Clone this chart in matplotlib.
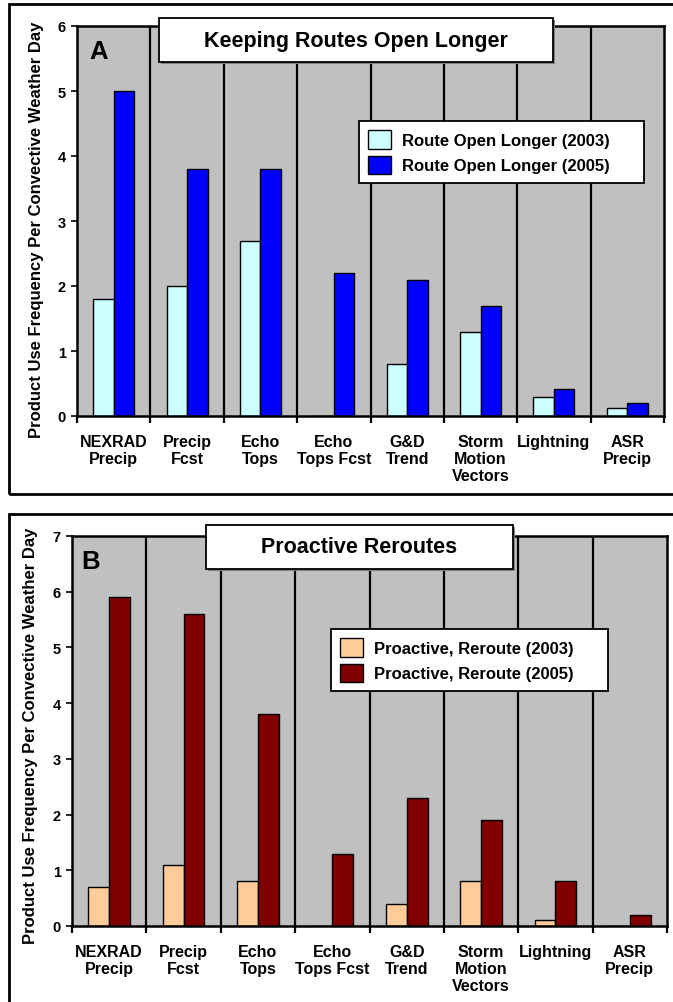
import matplotlib
matplotlib.use("Agg")
import matplotlib.pyplot as plt
from matplotlib.patches import Rectangle
import numpy as np

plt.rcParams['font.family'] = ['Liberation Sans', 'DejaVu Sans']
plt.rcParams['font.weight'] = 'bold'

# ---- data -------------------------------------------------------------
categories = ["NEXRAD\nPrecip", "Precip\nFcst", "Echo\nTops", "Echo\nTops Fcst",
              "G&D\nTrend", "Storm\nMotion\nVectors", "Lightning", "ASR\nPrecip"]

open_longer_2003 = [1.8, 2.0, 2.7, 0.0, 0.8, 1.3, 0.3, 0.12]
open_longer_2005 = [5.0, 3.8, 3.8, 2.2, 2.1, 1.7, 0.42, 0.2]

reroute_2003 = [0.7, 1.1, 0.8, 0.0, 0.4, 0.8, 0.1, 0.0]
reroute_2005 = [5.9, 5.6, 3.8, 1.3, 2.3, 1.9, 0.8, 0.2]

yticks_a = [0, 1, 2, 3, 4, 5, 6]
yticks_b = [0, 1, 2, 3, 4, 5, 6, 7]

ylabel = "Product Use Frequency Per Convective Weather Day"

# ---- figure geometry (pixel based) -------------------------------------
W, H = 673, 1003
fig = plt.figure(figsize=(W / 100, H / 100), dpi=100)
fig.patch.set_facecolor("white")


def fx(x):
    return x / W


def fy(y):
    return 1 - y / H


def add_axes_px(x0, y0, x1, y1):
    return fig.add_axes([fx(x0), fy(y1), fx(x1) - fx(x0), fy(y0) - fy(y1)])


PLOT_BG = "#C0C0C0"


def draw_panel(ax, v_old, v_new, c_old, c_new, yticks, lbl_old, lbl_new):
    n = len(categories)
    x = np.arange(n)
    width = 0.28
    ax.set_facecolor(PLOT_BG)
    ax.set_xlim(-0.5, n - 0.5)
    ax.set_ylim(yticks[0], yticks[-1])

    # category separators
    for b in np.arange(0.5, n - 0.5, 1.0):
        ax.axvline(b, color="black", lw=1.6, zorder=1)

    ax.bar(x - width / 2, v_old, width, color=c_old, edgecolor="black",
           linewidth=1.0, zorder=2, label=lbl_old)
    ax.bar(x + width / 2, v_new, width, color=c_new, edgecolor="black",
           linewidth=1.0, zorder=2, label=lbl_new)

    for s in ax.spines.values():
        s.set_color("black")
        s.set_linewidth(1.8)
        s.set_zorder(3)

    ax.set_yticks(yticks)
    ax.set_yticklabels([str(t) for t in yticks], fontsize=10.5,
                       fontweight="bold")
    ax.tick_params(axis="y", direction="out", length=4, width=1.2, pad=4)

    ax.set_xticks(x)
    ax.set_xticklabels(categories, fontsize=11.5, fontweight="bold",
                       linespacing=1.15)
    ax.tick_params(axis="x", which="major", length=0, pad=13)
    ax.set_xticks(np.arange(-0.5, n, 1.0), minor=True)
    ax.tick_params(axis="x", which="minor", direction="out", length=5,
                   width=1.6)


def title_box(x0, y0, x1, y1, text):
    shadow = Rectangle((fx(x0 + 2), fy(y1 + 2)), fx(x1) - fx(x0),
                       fy(y0) - fy(y1), transform=fig.transFigure,
                       facecolor="#808080", edgecolor="none", zorder=5)
    box = Rectangle((fx(x0), fy(y1)), fx(x1) - fx(x0), fy(y0) - fy(y1),
                    transform=fig.transFigure, facecolor="white",
                    edgecolor="black", linewidth=1.3, zorder=6)
    fig.patches.extend([shadow, box])
    fig.text(fx((x0 + x1) / 2), fy((y0 + y1) / 2), text, ha="center",
             va="center", fontsize=15.5, fontweight="bold", zorder=7)


def frame(x0, y0, x1, y1):
    r = Rectangle((fx(x0), fy(y1)), fx(x1) - fx(x0), fy(y0) - fy(y1),
                  transform=fig.transFigure, facecolor="none",
                  edgecolor="black", linewidth=2.0, zorder=0)
    fig.patches.append(r)


def legend_px(ax, x0, y0, x1, y1):
    leg = ax.legend(loc="upper left",
                    bbox_to_anchor=(fx(x0), fy(y1), fx(x1) - fx(x0),
                                    fy(y0) - fy(y1)),
                    bbox_transform=fig.transFigure, mode="expand",
                    fontsize=12, handlelength=1.35, handleheight=1.35,
                    labelspacing=0.4, borderpad=0.55, handletextpad=0.65,
                    borderaxespad=0, fancybox=False, framealpha=1,
                    edgecolor="black")
    leg.get_frame().set_linewidth(1.3)
    leg.set_zorder(8)
    return leg


# outer frames
frame(9, 5, 690, 495)
frame(9, 515, 690, 1020)

# ---- panel A -----------------------------------------------------------
axA = add_axes_px(77, 27, 664, 417)
draw_panel(axA, open_longer_2003, open_longer_2005, "#CCFFFF", "#0000FF",
           yticks_a, "Route Open Longer (2003)", "Route Open Longer (2005)")
axA.set_ylabel(ylabel, fontsize=12, fontweight="bold")
axA.yaxis.set_label_coords((44 - 77) / (664 - 77), (417 - 230) / (417 - 27))
title_box(159, 19, 553, 63, "Keeping Routes Open Longer")
fig.text(fx(89), fy(40), "A", ha="left", va="top", fontsize=18.5,
         fontweight="bold", zorder=7)
legend_px(axA, 359, 122, 644, 194)

# ---- panel B -----------------------------------------------------------
axB = add_axes_px(72, 537, 667, 927)
draw_panel(axB, reroute_2003, reroute_2005, "#FFCC99", "#800000",
           yticks_b, "Proactive, Reroute (2003)", "Proactive, Reroute (2005)")
axB.set_ylabel(ylabel, fontsize=12, fontweight="bold")
axB.yaxis.set_label_coords((38 - 72) / (667 - 72), (927 - 736) / (927 - 537))
title_box(206, 526, 513, 570, "Proactive Reroutes")
fig.text(fx(81), fy(550), "B", ha="left", va="top", fontsize=18.5,
         fontweight="bold", zorder=7)
legend_px(axB, 331, 630, 608, 704)

fig.savefig("out.png", dpi=100, facecolor="white")
